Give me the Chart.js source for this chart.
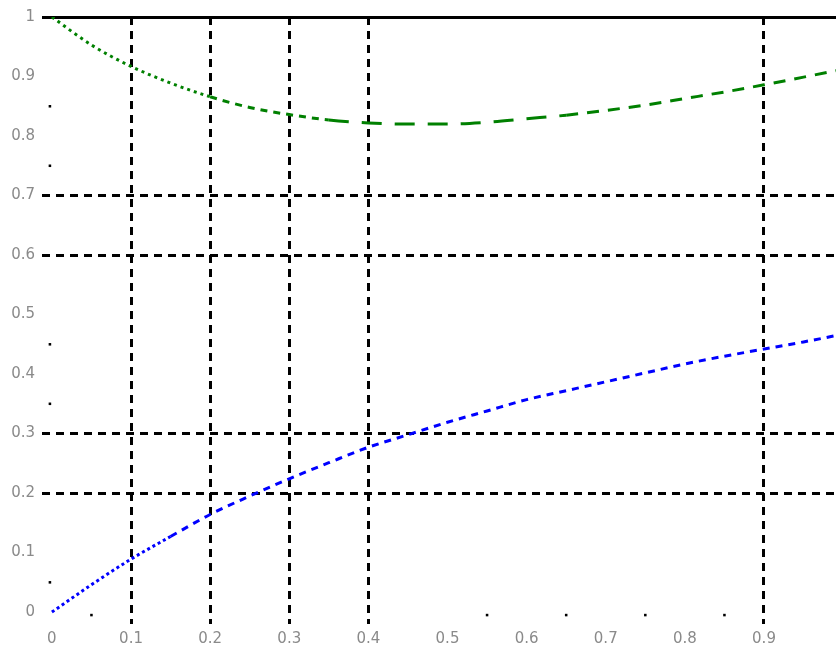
<!DOCTYPE html>
<html>
<head>
<meta charset="utf-8">
<script src="https://cdn.jsdelivr.net/npm/chart.js@4.4.1/dist/chart.umd.min.js"></script>
<style>
  html, body { margin: 0; padding: 0; background: #ffffff; }
  #wrap { width: 836px; height: 645px; }
</style>
</head>
<body>
<div id="wrap"><canvas id="c" width="836" height="645"></canvas></div>
<script>
// Sample positions along x and the two curves
const xValues     = [0, 0.05, 0.1, 0.15, 0.2, 0.25, 0.3, 0.35, 0.4, 0.45, 0.5, 0.55, 0.6, 0.65, 0.7, 0.75, 0.8, 0.85, 0.9, 0.95, 1.0];
const greenValues = [1.0, 0.953, 0.917, 0.889, 0.866, 0.848, 0.836, 0.827, 0.822, 0.820, 0.820, 0.823, 0.829, 0.835, 0.843, 0.852, 0.863, 0.874, 0.886, 0.899, 0.912];
const blueValues  = [0, 0.046, 0.089, 0.127, 0.164, 0.195, 0.224, 0.251, 0.277, 0.298, 0.319, 0.338, 0.357, 0.372, 0.387, 0.402, 0.417, 0.430, 0.442, 0.454, 0.467];

// Axis ticks and labels
const xTickValues = [0, 0.1, 0.2, 0.3, 0.4, 0.5, 0.6, 0.7, 0.8, 0.9];
const xTickLabels = ['0', '0.1', '0.2', '0.3', '0.4', '0.5', '0.6', '0.7', '0.8', '0.9'];
const yTickValues = [0, 0.1, 0.2, 0.3, 0.4, 0.5, 0.6, 0.7, 0.8, 0.9, 1];
const yTickLabels = ['0', '0.1', '0.2', '0.3', '0.4', '0.5', '0.6', '0.7', '0.8', '0.9', '1'];

// Reference lines: dashed except the solid one at the top
const xGridAt  = [0.1, 0.2, 0.3, 0.4, 0.9];
const yGridAt  = [0.2, 0.3, 0.6, 0.7, 1];
const ySolidAt = [1];

// Small stray marks near the axes
const markX = [-0.0025, -0.0025, -0.0025, -0.0025, -0.0025, 0.05, 0.55, 0.65, 0.75, 0.85];
const markY = [0.85, 0.75, 0.45, 0.35, 0.05, -0.005, -0.005, -0.005, -0.005, -0.005];

const near = (a, b) => Math.abs(a - b) < 1e-9;
const inList = (v, list) => list.some(g => near(v, g));

const toPoints = (xs, ys) => xs.map((x, i) => ({ x: x, y: ys[i] }));

const greenDash = ctx => {
  const x = ctx.p0.parsed.x;
  if (x < 0.2) return [3, 4];
  if (x < 0.35) return [7, 6];
  if (x < 0.65) return [20, 13];
  return [12, 9];
};
const blueDash = ctx => {
  const x = ctx.p0.parsed.x;
  if (x < 0.15) return [3, 3];
  return [7, 6];
};

const tickFont = { family: 'DejaVu Sans', size: 15 };
const tickColor = '#8a8a8a';

new Chart(document.getElementById('c'), {
  type: 'scatter',
  data: {
    datasets: [
      {
        data: toPoints(xValues, greenValues),
        showLine: true,
        borderColor: '#008000',
        borderWidth: 3,
        pointRadius: 0,
        cubicInterpolationMode: 'monotone',
        segment: { borderDash: greenDash }
      },
      {
        data: toPoints(xValues, blueValues),
        showLine: true,
        borderColor: '#0000ff',
        borderWidth: 3,
        pointRadius: 0,
        cubicInterpolationMode: 'monotone',
        segment: { borderDash: blueDash }
      },
      {
        data: toPoints(markX, markY),
        showLine: false,
        pointStyle: 'rect',
        pointRadius: 1.8,
        pointBorderWidth: 0,
        backgroundColor: '#000000',
        borderColor: '#000000',
        clip: false
      }
    ]
  },
  options: {
    responsive: false,
    animation: false,
    devicePixelRatio: 1,
    layout: { autoPadding: false, padding: { top: 17, right: 0, bottom: 0, left: 0 } },
    plugins: { legend: { display: false }, tooltip: { enabled: false } },
    scales: {
      x: {
        type: 'linear',
        min: -0.0125,
        max: 0.991,
        afterBuildTicks: s => { s.ticks = xTickValues.map(v => ({ value: v })); },
        afterFit: s => { s.height = 21; },
        ticks: {
          font: tickFont,
          color: tickColor,
          padding: 6,
          maxRotation: 0,
          autoSkip: false,
          callback: (v) => { const i = xTickValues.findIndex(t => near(t, v)); return i >= 0 ? xTickLabels[i] : ''; }
        },
        grid: {
          drawTicks: false,
          lineWidth: 3,
          color: ctx => (ctx.tick && inList(ctx.tick.value, xGridAt)) ? '#000000' : 'rgba(0,0,0,0)'
        },
        border: { display: false, dash: [8, 6] }
      },
      y: {
        type: 'linear',
        min: -0.02,
        max: 1,
        afterBuildTicks: s => { s.ticks = yTickValues.map(v => ({ value: v })); },
        afterFit: s => { s.width = 42; },
        ticks: {
          font: tickFont,
          color: tickColor,
          padding: 7,
          autoSkip: false,
          callback: (v) => { const i = yTickValues.findIndex(t => near(t, v)); return i >= 0 ? yTickLabels[i] : ''; }
        },
        grid: {
          drawTicks: false,
          lineWidth: 3,
          color: ctx => (ctx.tick && inList(ctx.tick.value, yGridAt)) ? '#000000' : 'rgba(0,0,0,0)'
        },
        border: {
          display: false,
          dash: ctx => (ctx.tick && inList(ctx.tick.value, ySolidAt)) ? [] : [8, 6]
        }
      }
    }
  }
});
</script>
</body>
</html>
